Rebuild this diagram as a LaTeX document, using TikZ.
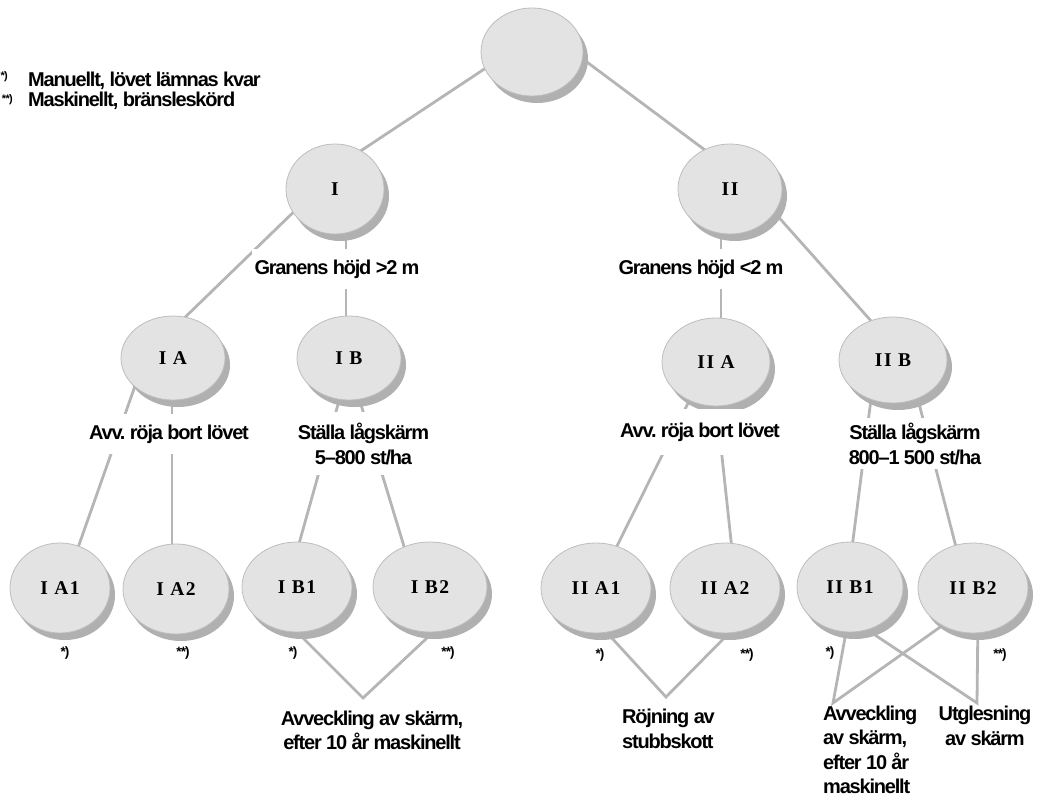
\documentclass[tikz,border=0pt]{standalone}
\usepackage{fontspec}
\setmainfont{Liberation Sans}[LetterSpace=-6]
\newfontfamily\lblfont[LetterSpace=8]{Liberation Serif}
\usetikzlibrary{shapes.geometric,shadows,calc}
\definecolor{nfill}{HTML}{E3E3E3}
\definecolor{nline}{HTML}{BDBDBD}
\definecolor{nshadow}{HTML}{B0B0B0}
\definecolor{lincol}{HTML}{B5B5B5}
\pgfdeclarelayer{background}
\pgfsetlayers{background,main}
\frenchspacing
\tikzset{
  ell/.style={ellipse, draw=nline, line width=0.8pt, fill=nfill, inner sep=0pt,
    font=\lblfont\bfseries\fontsize{19.5}{22}\selectfont,
    drop shadow={shadow xshift=5pt, shadow yshift=-7pt, fill=nshadow, opacity=1}},
  link/.style={draw=lincol, line width=2.8pt},
  lbl/.style={font=\bfseries\fontsize{20}{25}\selectfont, fill=white, inner xsep=3pt, anchor=base},
  note/.style={font=\bfseries\fontsize{20}{24.5}\selectfont, anchor=base, inner sep=0pt},
  legend/.style={font=\bfseries\fontsize{20}{20}\selectfont, anchor=base west, inner sep=0pt},
  star/.style={font=\bfseries\fontsize{13.5}{13.5}\selectfont, inner sep=0pt},
  lstar/.style={font=\bfseries\fontsize{11}{11}\selectfont, inner sep=0pt, anchor=north east},
}
\begin{document}
\begin{tikzpicture}[x=1pt,y=-1pt]
\useasboundingbox (0,0) rectangle (1039,803);
% legend
\node[lstar] (ls1) at (8,71) {*)};
\node[lstar] (ls2) at (13,94) {**)};
\node[legend] (leg1) at (28,86.5) {Manuellt, lövet lämnas kvar};
\node[legend] (leg2) at (28,106.5) {Maskinellt, bränsleskörd};
% ellipses
\node[ell, minimum width=102pt, minimum height=88pt] (root) at (532,52) {};
\node[ell, minimum width=98pt, minimum height=90pt] (I) at (335,189) {I};
\node[ell, minimum width=104pt, minimum height=90pt] (II) at (730,189) {II};
\node[ell, minimum width=104pt, minimum height=84pt] (IA) at (173,358) {I A};
\node[ell, minimum width=104pt, minimum height=84pt] (IB) at (349,358) {I B};
\node[ell, minimum width=108pt, minimum height=88pt] (IIA) at (716,362) {II A};
\node[ell, minimum width=108pt, minimum height=86pt] (IIB) at (893,360) {II B};
\node[ell, minimum width=100pt, minimum height=90pt] (IA1) at (60,588) {I A1};
\node[ell, minimum width=106pt, minimum height=90pt] (IA2) at (176,589) {I A2};
\node[ell, minimum width=110pt, minimum height=90pt] (IB1) at (297,587) {I B1};
\node[ell, minimum width=114pt, minimum height=90pt] (IB2) at (430,587) {I B2};
\node[ell, minimum width=110pt, minimum height=90pt] (IIA1) at (596,588) {II A1};
\node[ell, minimum width=110pt, minimum height=90pt] (IIA2) at (725,588) {II A2};
\node[ell, minimum width=106pt, minimum height=90pt] (IIB1) at (850,587) {II B1};
\node[ell, minimum width=110pt, minimum height=90pt] (IIB2) at (973,588) {II B2};
% labels on the branches
\node[lbl, inner ysep=11pt] (gA) at (337,274) {Granens höjd >2 m};
\node[lbl, inner ysep=11pt] (gB) at (701,274) {Granens höjd <2 m};
\node[lbl, inner ysep=10.5pt] (aIA) at (169,439) {Avv. röja bort lövet};
\node[lbl, inner ysep=13.5pt] (aIIA) at (700,437) {Avv. röja bort lövet};
\node[lbl, inner ysep=10.5pt, align=center] (sIB) at (363.5,464) {Ställa lågskärm\\5–800 st/ha};
\node[lbl, inner ysep=5pt, align=center] (sIIB) at (915,464) {Ställa lågskärm\\800–1 500 st/ha};
% stars
\node[star] (st1) at (65,653) {*)};
\node[star] (st2) at (183,653) {**)};
\node[star] (st3) at (293,653) {*)};
\node[star] (st4) at (448,653) {**)};
\node[star] (st5) at (600,655) {*)};
\node[star] (st6) at (747,655) {**)};
\node[star] (st7) at (830,653) {*)};
\node[star] (st8) at (1000,655) {**)};
% outcome texts
\node[note, align=center] (avIB) at (372,749.5) {Avveckling av skärm,\\efter 10 år maskinellt};
\node[note, align=left, anchor=base west] (rj) at (622,748) {Röjning av\\stubbskott};
\node[note, align=left, anchor=base west] (avIIB) at (823,793.5) {Avveckling\\av skärm,\\efter 10 år\\maskinellt};
\node[note, align=center] (ut) at (985,745) {Utglesning\\av skärm};
% apex points
\coordinate (apIB) at (363,698);
\coordinate (apIIA) at (666,697);
\coordinate (apAv) at (833,703);
\coordinate (apUt) at (977,703);
\begin{pgfonlayer}{background}
\draw[link] ($(root)+(-25,2)$) -- ($(I)+(12,-29)$);
\draw[link] ($(root)+(28,-10)$) -- ($(II)+(-5,-24)$);
\draw[link] ($(I)+(-28,10)$) -- ($(IA)+(2,-31)$);
\draw[link] ($(I)+(11,11)$) -- ($(IB)+(-3,-18)$);
\draw[link] ($(II)+(-9,11)$) -- ($(IIA)+(5,-18)$);
\draw[link] ($(II)+(28,5)$) -- ($(IIB)+(-13,-29)$);
\draw[link] ($(IA)+(-32,11)$) -- ($(IA1)+(14,-29)$);
\draw[link] ($(IA)+(-1,20)$) -- ($(IA2)+(-4,-25)$);
\draw[link] ($(IB)+(-5,25)$) -- ($(IB1)+(-2,-29)$);
\draw[link] ($(IB)+(6,27)$) -- ($(IB2)+(-22,-27.5)$);
\draw[link] ($(IIA)+(-18,21)$) -- ($(IIA1)+(15,-30)$);
\draw[link] ($(IIA)+(-2,20)$) -- ($(IIA2)+(8,-29)$);
\draw[link] ($(IIB)+(-20,23.5)$) -- ($(IIB1)+(0.5,-27.4)$);
\draw[link] ($(IIB)+(21,24)$) -- ($(IIB2)+(-13,-25.6)$);
\draw[link] ($(IB1)+(-10,35)$) -- (apIB) -- ($(IB2)+(13,36)$);
\draw[link] ($(IIA1)+(2,35)$) -- (apIIA) -- ($(IIA2)+(13,36)$);
\draw[link] ($(IIB1)+(-1,29)$) -- (apAv) -- ($(IIB2)+(-13,25)$);
\draw[link] ($(IIB1)+(4,34)$) -- (apUt) -- ($(IIB2)+(5,27)$);
\end{pgfonlayer}
\end{tikzpicture}
\end{document}
